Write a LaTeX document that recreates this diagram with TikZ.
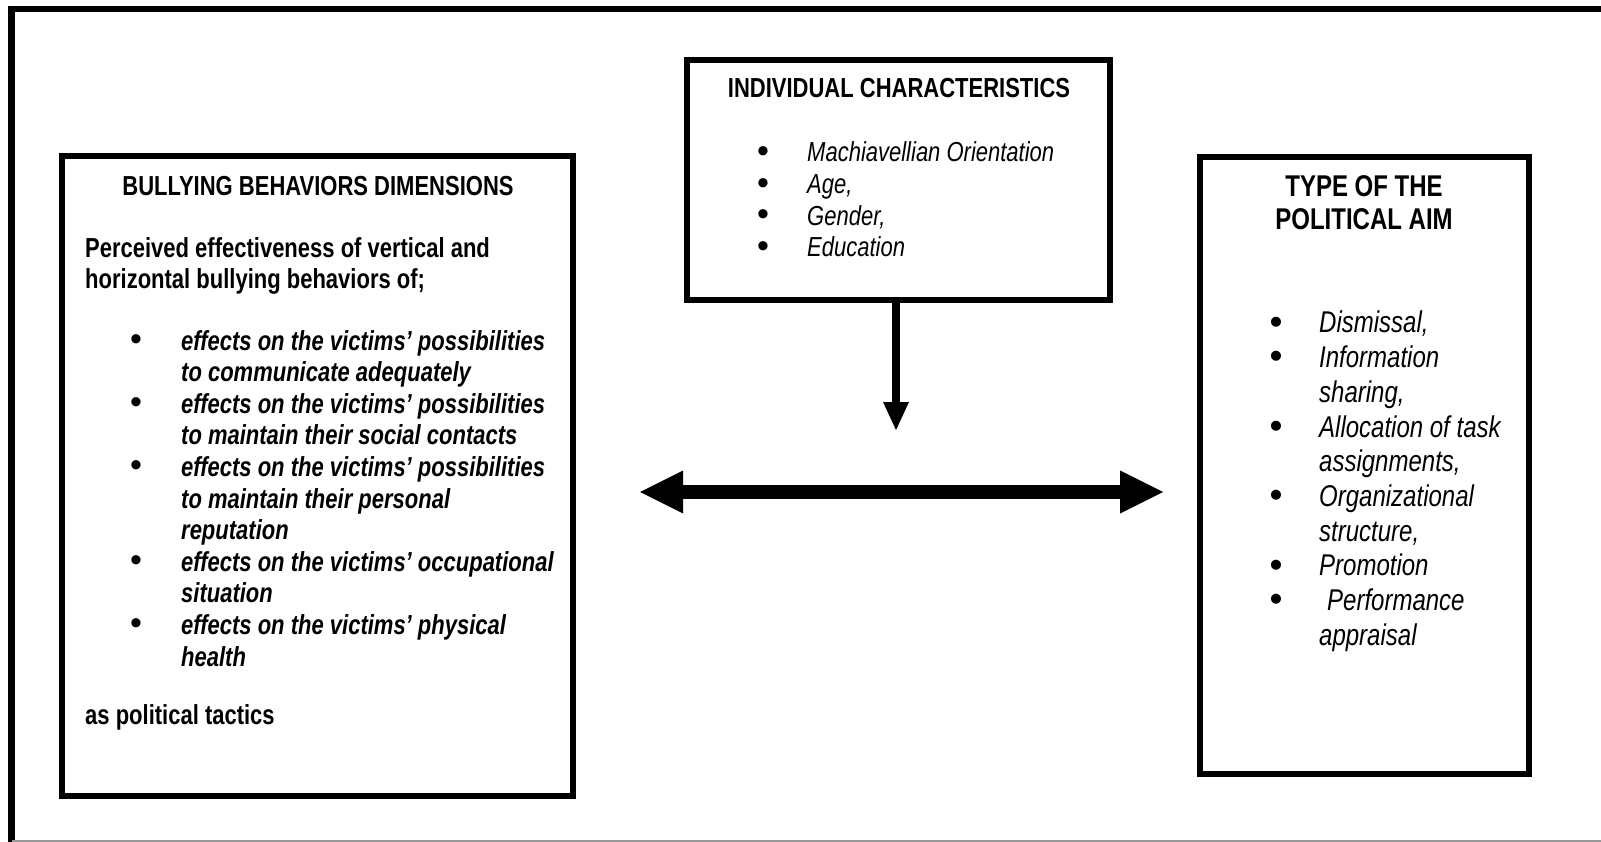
\documentclass[tikz,border=0pt]{standalone}
\usepackage{fontspec}
\setmainfont{Liberation Sans}[FakeStretch=0.80]
\newfontfamily\bulfont{Liberation Sans}
\usetikzlibrary{arrows.meta}
\newcommand{\myL}{\fontsize{27.5}{27.5}\selectfont}
\newcommand{\myM}{\fontsize{27.5}{27.5}\selectfont}
\newcommand{\myR}{\fontsize{30}{30}\selectfont}
\tikzset{
  box/.style={draw, line width=6pt, rectangle, inner sep=0pt},
  frameline/.style={line width=6.5pt, line join=miter},
  ltitle/.style={anchor=base, inner sep=0pt, font=\myL\bfseries},
  lline/.style={anchor=base west, inner sep=0pt, font=\myL\bfseries},
  litem/.style={anchor=base west, inner sep=0pt, font=\myL\bfseries\itshape},
  lbul/.style={anchor=center, inner sep=0pt, yshift=7.5pt, font=\bulfont\fontsize{34}{34}\selectfont},
  mtitle/.style={anchor=base, inner sep=0pt, font=\myM\bfseries},
  mitem/.style={anchor=base west, inner sep=0pt, font=\myM\itshape},
  mbul/.style={anchor=center, inner sep=0pt, yshift=7.5pt, font=\bulfont\fontsize{34}{34}\selectfont},
  rtitle/.style={anchor=base, inner sep=0pt, font=\myR\bfseries},
  ritem/.style={anchor=base west, inner sep=0pt, font=\myR\itshape},
  rbul/.style={anchor=center, inner sep=0pt, yshift=7.5pt, font=\bulfont\fontsize{37}{37}\selectfont},
  varrow/.style={line width=8pt, -{Triangle[length=28pt,width=26pt,line width=0pt]}},
  harrow/.style={line width=14pt, {Triangle[length=43pt,width=43pt,line width=0pt]}-{Triangle[length=43pt,width=43pt,line width=0pt]}}
}
\begin{document}
\begin{tikzpicture}[x=1pt,y=-1pt]
\useasboundingbox (0,0) rectangle (1601,842);
\fill[white] (0,0) rectangle (1601,842);
% outer frame (cut at right and bottom)
\draw[frameline] (11.5,850) -- (11.5,9) -- (1610,9);
\draw[gray!80, line width=1.5pt] (11.5,841) -- (1610,841);

% boxes
\node[box, minimum width=511pt, minimum height=640pt] (left) at (317.5,476) {};
\node[box, minimum width=423pt, minimum height=240pt] (mid) at (898.5,180) {};
\node[box, minimum width=329pt, minimum height=617pt] (right) at (1364.5,465.5) {};

% left box text
\node[ltitle] (lt) at (318,196) {BULLYING BEHAVIORS DIMENSIONS};
\node[lline] (lp1) at (85,258) {Perceived effectiveness of vertical and};
\node[lline] (lp2) at (85,289) {horizontal bullying behaviors of;};
\node[lbul] (lb1) at (136,350) {•};
\node[litem] (li1a) at (181,350) {effects on the victims’ possibilities};
\node[litem] (li1b) at (181,381.6) {to communicate adequately};
\node[lbul] (lb2) at (136,413.2) {•};
\node[litem] (li2a) at (181,413.2) {effects on the victims’ possibilities};
\node[litem] (li2b) at (181,444.8) {to maintain their social contacts};
\node[lbul] (lb3) at (136,476.4) {•};
\node[litem] (li3a) at (181,476.4) {effects on the victims’ possibilities};
\node[litem] (li3b) at (181,508) {to maintain their personal};
\node[litem] (li3c) at (181,539.6) {reputation};
\node[lbul] (lb4) at (136,571.2) {•};
\node[litem] (li4a) at (181,571.2) {effects on the victims’ occupational};
\node[litem] (li4b) at (181,602.8) {situation};
\node[lbul] (lb5) at (136,634.4) {•};
\node[litem] (li5a) at (181,634.4) {effects on the victims’ physical};
\node[litem] (li5b) at (181,666) {health};
\node[lline] (lend) at (85,724) {as political tactics};

% middle box text
\node[mtitle] (mt) at (899,98) {INDIVIDUAL CHARACTERISTICS};
\node[mbul] (mb1) at (763,162) {•};
\node[mitem] (mi1) at (807,162) {Machiavellian Orientation};
\node[mbul] (mb2) at (763,193.7) {•};
\node[mitem] (mi2) at (807,193.7) {Age,};
\node[mbul] (mb3) at (763,225.3) {•};
\node[mitem] (mi3) at (807,225.3) {Gender,};
\node[mbul] (mb4) at (763,257) {•};
\node[mitem] (mi4) at (807,257) {Education};

% right box text
\node[rtitle] (rt1) at (1364,197) {TYPE OF THE};
\node[rtitle] (rt2) at (1364,230) {POLITICAL AIM};
\node[rbul] (rb1) at (1276,333) {•};
\node[ritem] (ri1) at (1319,333) {Dismissal,};
\node[rbul] (rb2) at (1276,367.7) {•};
\node[ritem] (ri2a) at (1319,367.7) {Information};
\node[ritem] (ri2b) at (1319,402.4) {sharing,};
\node[rbul] (rb3) at (1276,437.1) {•};
\node[ritem] (ri3a) at (1319,437.1) {Allocation of task};
\node[ritem] (ri3b) at (1319,471.8) {assignments,};
\node[rbul] (rb4) at (1276,506.5) {•};
\node[ritem] (ri4a) at (1319,506.5) {Organizational};
\node[ritem] (ri4b) at (1319,541.2) {structure,};
\node[rbul] (rb5) at (1276,575.9) {•};
\node[ritem] (ri5) at (1319,575.9) {Promotion};
\node[rbul] (rb6) at (1276,610.6) {•};
\node[ritem] (ri6a) at (1327,610.6) {Performance};
\node[ritem] (ri6b) at (1319,645.3) {appraisal};

% connectors
\coordinate (vt) at (896,430);
\coordinate (ha) at (640,492);
\coordinate (hb) at (1163,492);
\draw[varrow] (mid.south -| vt) -- (vt);
\draw[harrow] (ha) -- (hb);
\end{tikzpicture}
\end{document}
